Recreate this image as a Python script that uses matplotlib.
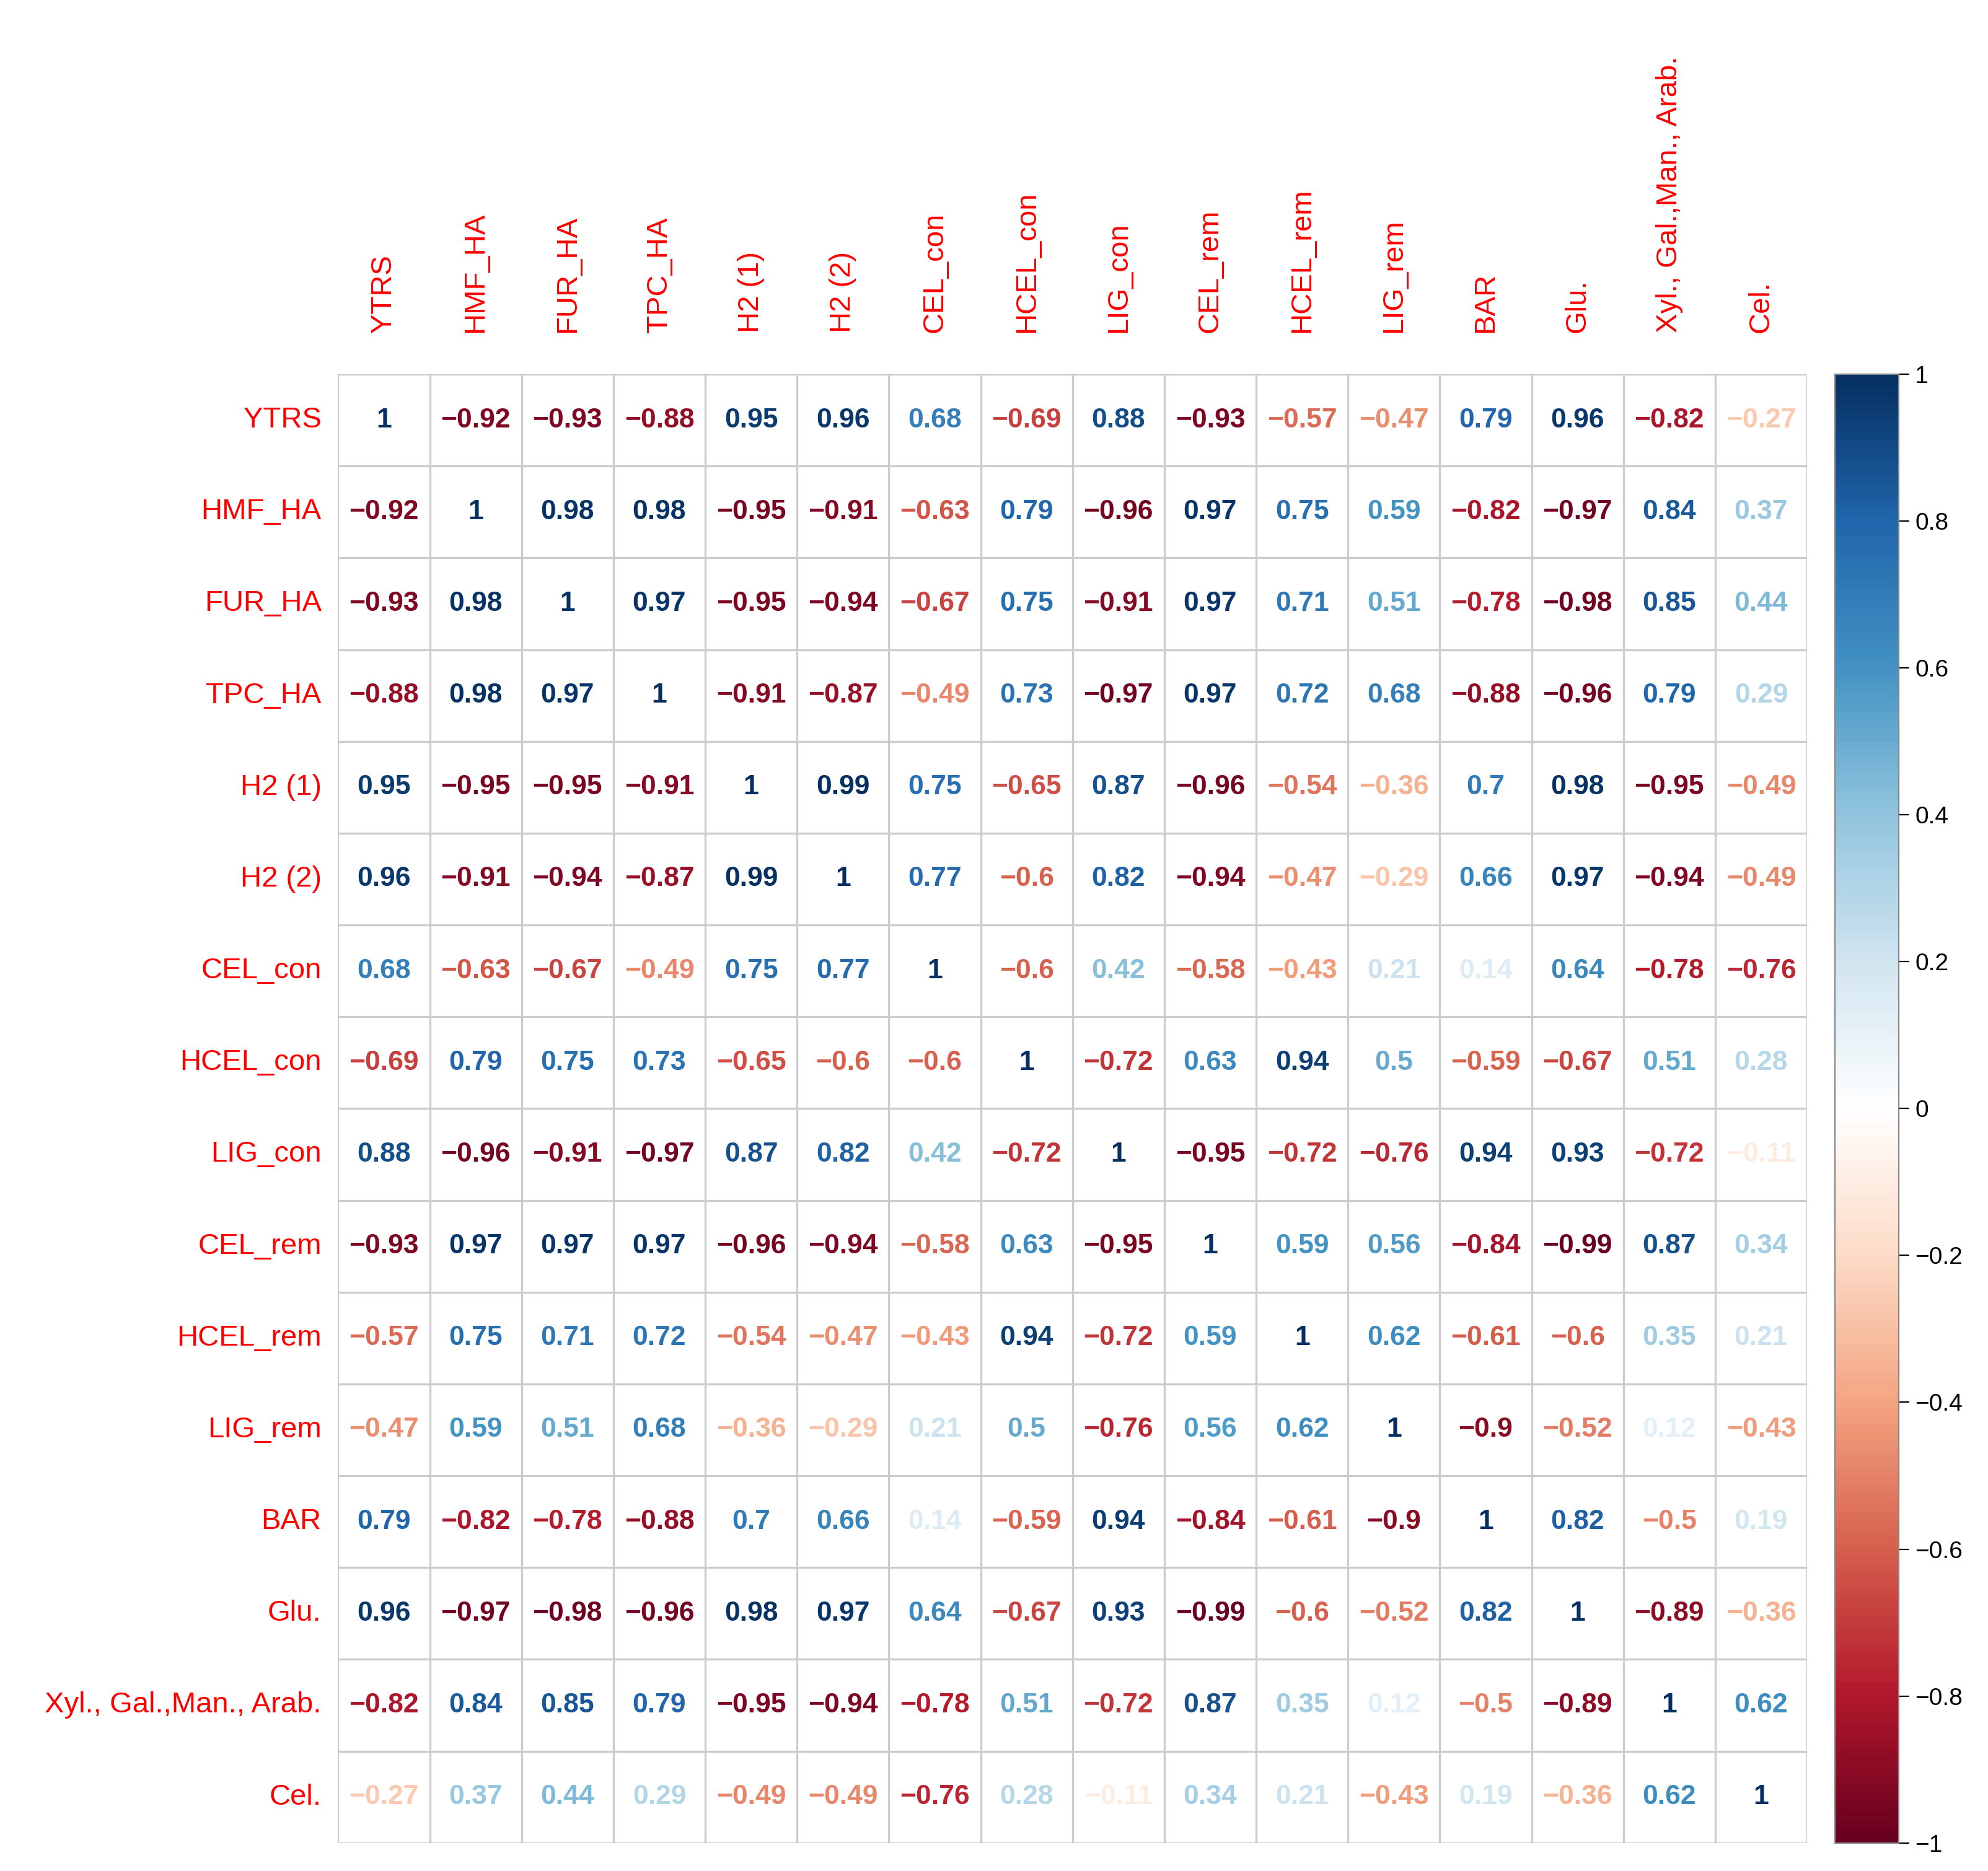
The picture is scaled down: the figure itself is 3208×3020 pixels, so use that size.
import numpy as np
import matplotlib
matplotlib.use("Agg")
import matplotlib.pyplot as plt
from matplotlib.colors import LinearSegmentedColormap, Normalize

plt.rcParams['font.family'] = ['Liberation Sans', 'DejaVu Sans']

labels = ["YTRS","HMF_HA","FUR_HA","TPC_HA","H2 (1)","H2 (2)","CEL_con","HCEL_con","LIG_con",
          "CEL_rem","HCEL_rem","LIG_rem","BAR","Glu.","Xyl., Gal.,Man., Arab.","Cel."]
top_labels = labels[:14] + ["Xyl., Gal.,Man., Arab.", "Cel."]

r_ytrs = [1,-0.92,-0.93,-0.88,0.95,0.96,0.68,-0.69,0.88,-0.93,-0.57,-0.47,0.79,0.96,-0.82,-0.27]
r_hmf  = [-0.92,1,0.98,0.98,-0.95,-0.91,-0.63,0.79,-0.96,0.97,0.75,0.59,-0.82,-0.97,0.84,0.37]
r_fur  = [-0.93,0.98,1,0.97,-0.95,-0.94,-0.67,0.75,-0.91,0.97,0.71,0.51,-0.78,-0.98,0.85,0.44]
r_tpc  = [-0.88,0.98,0.97,1,-0.91,-0.87,-0.49,0.73,-0.97,0.97,0.72,0.68,-0.88,-0.96,0.79,0.29]
r_h21  = [0.95,-0.95,-0.95,-0.91,1,0.99,0.75,-0.65,0.87,-0.96,-0.54,-0.36,0.7,0.98,-0.95,-0.49]
r_h22  = [0.96,-0.91,-0.94,-0.87,0.99,1,0.77,-0.6,0.82,-0.94,-0.47,-0.29,0.66,0.97,-0.94,-0.49]
r_celc = [0.68,-0.63,-0.67,-0.49,0.75,0.77,1,-0.6,0.42,-0.58,-0.43,0.21,0.14,0.64,-0.78,-0.76]
r_hcc  = [-0.69,0.79,0.75,0.73,-0.65,-0.6,-0.6,1,-0.72,0.63,0.94,0.5,-0.59,-0.67,0.51,0.28]
r_ligc = [0.88,-0.96,-0.91,-0.97,0.87,0.82,0.42,-0.72,1,-0.95,-0.72,-0.76,0.94,0.93,-0.72,-0.11]
r_celr = [-0.93,0.97,0.97,0.97,-0.96,-0.94,-0.58,0.63,-0.95,1,0.59,0.56,-0.84,-0.99,0.87,0.34]
r_hcr  = [-0.57,0.75,0.71,0.72,-0.54,-0.47,-0.43,0.94,-0.72,0.59,1,0.62,-0.61,-0.6,0.35,0.21]
r_ligr = [-0.47,0.59,0.51,0.68,-0.36,-0.29,0.21,0.5,-0.76,0.56,0.62,1,-0.9,-0.52,0.12,-0.43]
r_bar  = [0.79,-0.82,-0.78,-0.88,0.7,0.66,0.14,-0.59,0.94,-0.84,-0.61,-0.9,1,0.82,-0.5,0.19]
r_glu  = [0.96,-0.97,-0.98,-0.96,0.98,0.97,0.64,-0.67,0.93,-0.99,-0.6,-0.52,0.82,1,-0.89,-0.36]
r_xyl  = [-0.82,0.84,0.85,0.79,-0.95,-0.94,-0.78,0.51,-0.72,0.87,0.35,0.12,-0.5,-0.89,1,0.62]
r_cel  = [-0.27,0.37,0.44,0.29,-0.49,-0.49,-0.76,0.28,-0.11,0.34,0.21,-0.43,0.19,-0.36,0.62,1]
M = np.array([r_ytrs,r_hmf,r_fur,r_tpc,r_h21,r_h22,r_celc,r_hcc,r_ligc,r_celr,r_hcr,r_ligr,r_bar,r_glu,r_xyl,r_cel])

cols = ["#67001F","#B2182B","#D6604D","#F4A582","#FDDBC7","#FFFFFF",
        "#D1E5F0","#92C5DE","#4393C3","#2166AC","#053061"]
cmap = LinearSegmentedColormap.from_list("corr", cols, N=200)
norm = Normalize(-1, 1)

fig = plt.figure(figsize=(16.04, 15.10), dpi=200)
ax = fig.add_axes([0.17, 0.015, 0.739, 0.785])
n = len(labels)
ax.set_xlim(0, n); ax.set_ylim(n, 0)
for i in range(n + 1):
    ax.axhline(i, color="#CCCCCC", lw=1.2)
    ax.axvline(i, color="#CCCCCC", lw=1.2)
for i in range(n):
    for j in range(n):
        v = M[i, j]
        s = "1" if v == 1 else f"{v:g}".replace("-", "\u2212")
        ax.text(j + 0.5, i + 0.5, s, ha="center", va="center", fontsize=16,
                fontweight="bold", color=cmap(norm(v)))
ax.set_xticks([]); ax.set_yticks([])
for s in ax.spines.values():
    s.set_visible(False)
for i, l in enumerate(labels):
    ax.text(-0.18, i + 0.5, l, ha="right", va="center", fontsize=17, color="#FF0000")
    ax.text(i + 0.5, -0.45, top_labels[i], ha="center", va="bottom", rotation=90,
            fontsize=17, color="#FF0000")

cax = fig.add_axes([0.923, 0.015, 0.032, 0.785])
cb = matplotlib.colorbar.ColorbarBase(cax, cmap=cmap, norm=norm)
cb.set_ticks(np.round(np.arange(-1, 1.01, 0.2), 1))
cb.set_ticklabels(["\u22121","\u22120.8","\u22120.6","\u22120.4","\u22120.2","0","0.2","0.4","0.6","0.8","1"])
cb.ax.tick_params(labelsize=14, length=6)
cb.outline.set_edgecolor("#888888")
fig.savefig("out.png", dpi=200)
